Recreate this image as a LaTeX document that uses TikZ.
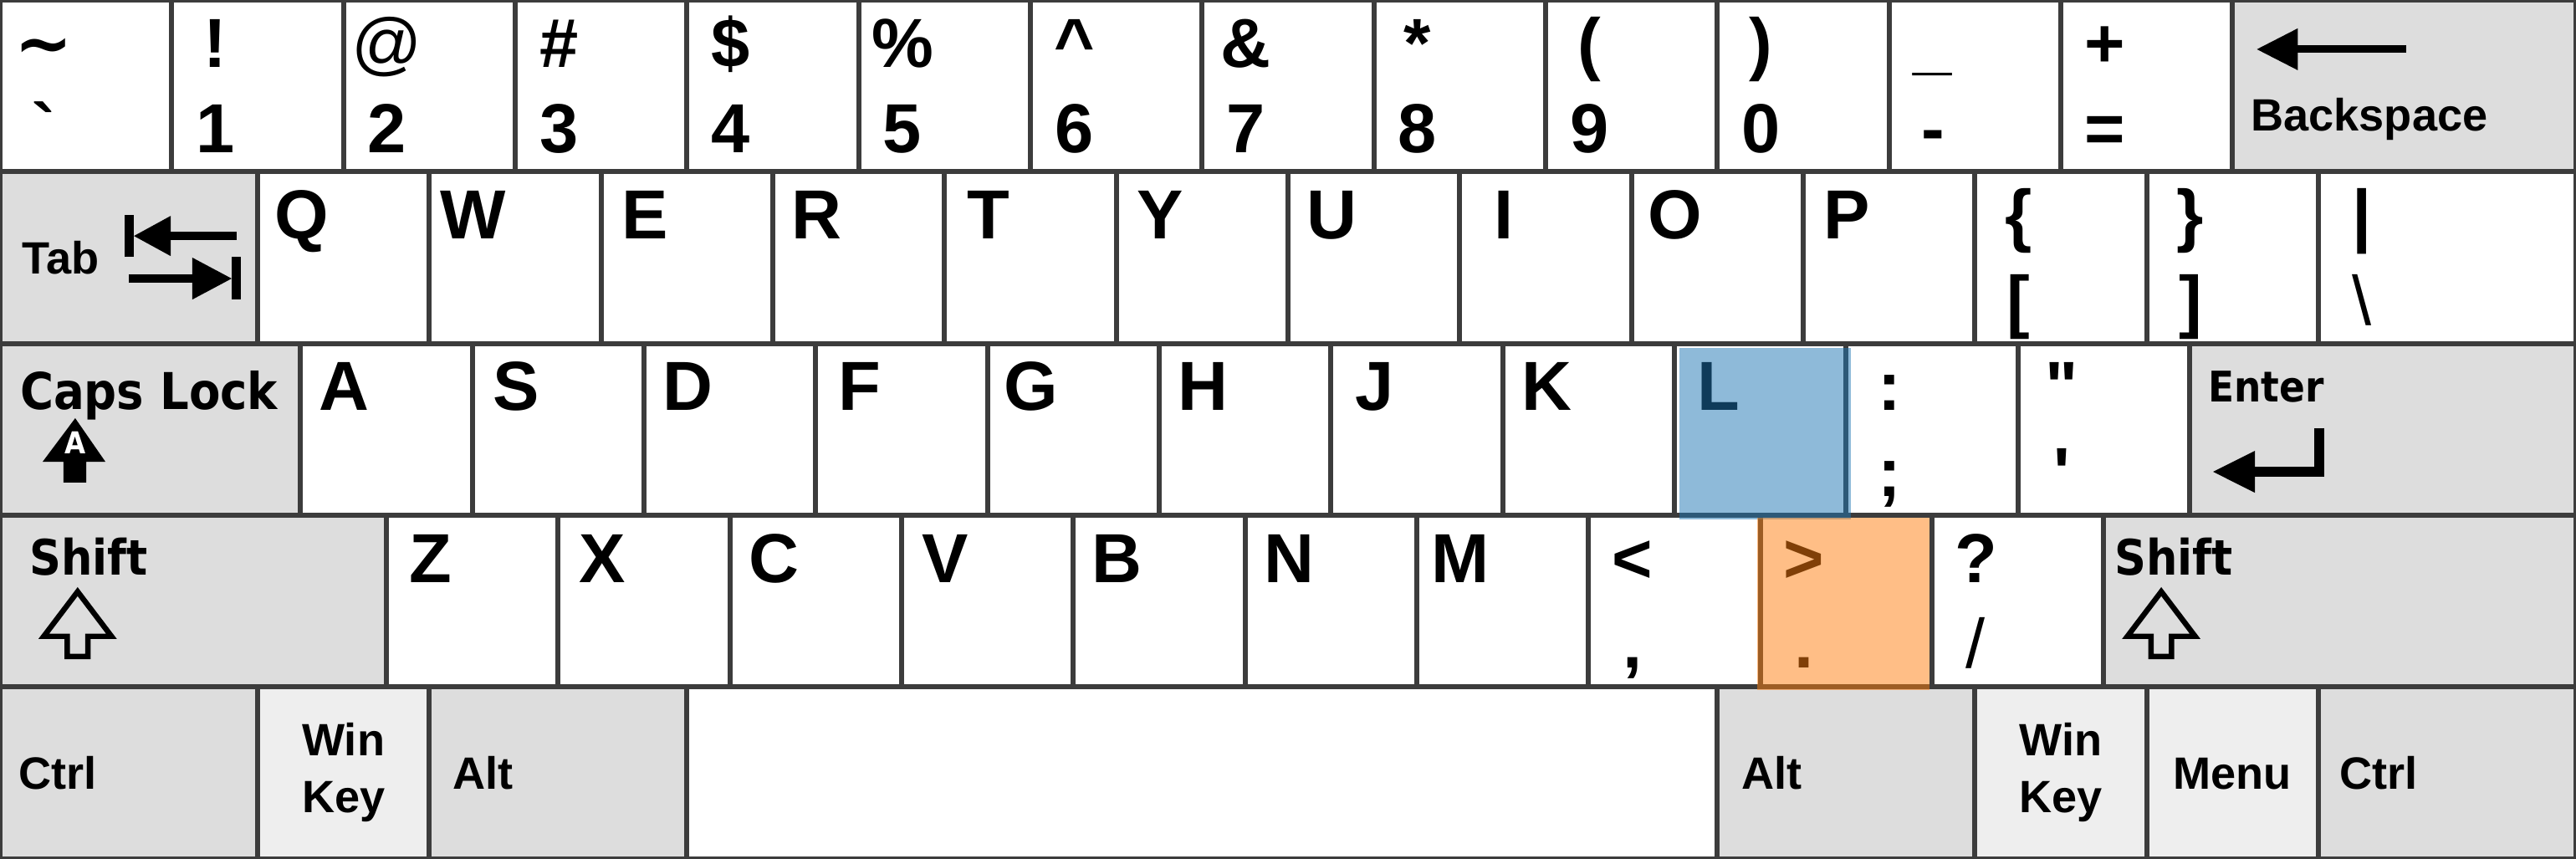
\documentclass[tikz,border=0pt]{standalone}
\usepackage{fontspec}
\newfontfamily\lsans{Liberation Sans}
\newfontfamily\djsans{DejaVu Sans}[FakeStretch=0.9]
\newfontfamily\djplain{DejaVu Sans}
\definecolor{keyline}{HTML}{3C3C3C}
\definecolor{modfill}{HTML}{DDDDDD}
\definecolor{winfill}{HTML}{EEEEEE}
\definecolor{hlblue}{HTML}{1F77B4}
\definecolor{hlorange}{HTML}{FF7F0E}
\tikzset{
  keybox/.style={draw=keyline, line width=0.8pt, fill=white, inner sep=0pt, outer sep=0pt},
  modkey/.style={keybox, fill=modfill},
  winkey/.style={keybox, fill=winfill},
  lbl/.style={anchor=base, inner sep=0pt, font=\lsans\bfseries\fontsize{11.5}{12}\selectfont},
  modlbl/.style={anchor=base west, inner sep=0pt, font=\lsans\bfseries\fontsize{7.5}{9}\selectfont},
  modlblc/.style={anchor=base, inner sep=0pt, font=\lsans\bfseries\fontsize{7.5}{9}\selectfont},
  bklbl/.style={anchor=base west, inner sep=0pt, font=\lsans\bfseries\fontsize{7.5}{9}\selectfont},
  djlbl/.style={anchor=base west, inner sep=0pt, font=\djsans\bfseries\fontsize{8.1}{9}\selectfont},
  capslbl/.style={anchor=base west, inner sep=0pt, font=\djsans\bfseries\fontsize{8.4}{9}\selectfont},
  entlbl/.style={anchor=base west, inner sep=0pt, font=\djsans\bfseries\fontsize{7}{8}\selectfont},
  shiftarrow/.style={draw=black, line width=0.9pt, line join=miter},
  hlbox/.style={inner sep=0pt, outer sep=0pt, minimum width=1cm, minimum height=1cm, fill opacity=0.5},
}
\newcommand{\thin}[1]{{\mdseries #1}}
% key rectangle: name, style, x left, row top, width
\newcommand{\mkkey}[5]{\node[#2, minimum width=#5cm, minimum height=1cm] (#1) at ({#3+#5/2},{#4-0.5}) {};}
% two labels: name, x left, row top, top text, bottom text
\newcommand{\mklab}[5]{\node[lbl] (#1t) at ({#2+0.255},{#3-0.39}) {#4};
  \node[lbl] (#1b) at ({#2+0.255},{#3-0.89}) {#5};}
% one label: name, x left, row top, text
\newcommand{\mkone}[4]{\node[lbl] (#1) at ({#2+0.255},{#3-0.39}) {#4};}
\begin{document}
\begin{tikzpicture}
\useasboundingbox (0,0) rectangle (15,-5);
% ---------- row 1
\foreach \i in {0,...,12} {\mkkey{ra\i}{keybox}{\i}{0}{1}}
\mkkey{bksp}{modkey}{13}{0}{2}
% ---------- row 2
\mkkey{tab}{modkey}{0}{-1}{1.5}
\foreach \i in {0,...,11} {\mkkey{rb\i}{keybox}{1.5+\i}{-1}{1}}
\mkkey{bsl}{keybox}{13.5}{-1}{1.5}
% ---------- row 3
\mkkey{caps}{modkey}{0}{-2}{1.75}
\foreach \i in {0,...,10} {\mkkey{rc\i}{keybox}{1.75+\i}{-2}{1}}
\mkkey{enter}{modkey}{12.75}{-2}{2.25}
% ---------- row 4
\mkkey{lshift}{modkey}{0}{-3}{2.25}
\foreach \i in {0,...,9} {\mkkey{rd\i}{keybox}{2.25+\i}{-3}{1}}
\mkkey{rshift}{modkey}{12.25}{-3}{2.75}
% ---------- row 5
\mkkey{lctrl}{modkey}{0}{-4}{1.5}
\mkkey{lwin}{winkey}{1.5}{-4}{1}
\mkkey{lalt}{modkey}{2.5}{-4}{1.5}
\mkkey{space}{keybox}{4}{-4}{6}
\mkkey{ralt}{modkey}{10}{-4}{1.5}
\mkkey{rwin}{winkey}{11.5}{-4}{1}
\mkkey{menu}{winkey}{12.5}{-4}{1}
\mkkey{rctrl}{modkey}{13.5}{-4}{1.5}

% ---------- labels row 1
\mklab{la0}{0}{0}{{\djplain\bfseries\char126}}{\char96}
\mklab{la1}{1}{0}{!}{1}
\mklab{la2}{2}{0}{\thin{@}}{2}
\mklab{la3}{3}{0}{\#}{3}
\mklab{la4}{4}{0}{\$}{4}
\mklab{la5}{5}{0}{\%}{5}
\mklab{la6}{6}{0}{\char94}{6}
\mklab{la7}{7}{0}{\&}{7}
\mklab{la8}{8}{0}{*}{8}
\mklab{la9}{9}{0}{(}{9}
\mklab{la10}{10}{0}{)}{0}
\mklab{la11}{11}{0}{\char95}{-}
\mklab{la12}{12}{0}{+}{=}
\node[bklbl] (bksptxt) at (13.101,-0.76) {Backspace};
\fill (13.142,-0.287) -- (13.38,-0.165) -- (13.38,-0.409) -- cycle;
\fill (13.37,-0.265) rectangle (14.009,-0.309);
% ---------- labels row 2
\node[modlbl] (tabtxt) at (0.123,-1.593) {Tab};
\fill (0.725,-1.252) rectangle (0.78,-1.495);
\fill (0.78,-1.374) -- (0.994,-1.257) -- (0.994,-1.491) -- cycle;
\fill (0.99,-1.3495) rectangle (1.378,-1.3985);
\fill (0.75,-1.5975) rectangle (1.13,-1.6465);
\fill (1.349,-1.622) -- (1.12,-1.5) -- (1.12,-1.744) -- cycle;
\fill (1.349,-1.495) rectangle (1.403,-1.744);
\mkone{lq}{1.5}{-1}{Q}
\mkone{lw}{2.5}{-1}{W}
\mkone{le}{3.5}{-1}{E}
\mkone{lr}{4.5}{-1}{R}
\mkone{lt}{5.5}{-1}{T}
\mkone{ly}{6.5}{-1}{Y}
\mkone{lu}{7.5}{-1}{U}
\mkone{li}{8.5}{-1}{I}
\mkone{lo}{9.5}{-1}{O}
\mkone{lp}{10.5}{-1}{P}
\mklab{lbr}{11.5}{-1}{\char123}{[}
\mklab{lbrr}{12.5}{-1}{\char125}{]}
\mklab{lbs}{13.5}{-1}{|}{\thin{\char92}}
% ---------- labels row 3
\node[capslbl] (capstxt) at (0.11,-2.385) {Caps Lock};
\fill (0.438,-2.435) -- (0.614,-2.689) -- (0.502,-2.689) -- (0.502,-2.81)
  -- (0.37,-2.81) -- (0.37,-2.689) -- (0.248,-2.689) -- cycle;
\node[anchor=base, inner sep=0pt, text=white, font=\djsans\bfseries\fontsize{5}{6}\selectfont] (capsA) at (0.438,-2.64) {A};
\mkone{lA}{1.75}{-2}{A}
\mkone{lS}{2.75}{-2}{S}
\mkone{lD}{3.75}{-2}{D}
\mkone{lF}{4.75}{-2}{F}
\mkone{lG}{5.75}{-2}{G}
\mkone{lH}{6.75}{-2}{H}
\mkone{lJ}{7.75}{-2}{J}
\mkone{lK}{8.75}{-2}{K}
\mkone{lL}{9.75}{-2}{L}
\mklab{lsc}{10.75}{-2}{:}{;}
\mklab{lqu}{11.75}{-2}{\char34}{\char39}
\node[entlbl] (entertxt) at (12.852,-2.338) {Enter};
\draw[line width=0.055cm, line join=miter] (13.505,-2.492) -- (13.505,-2.747) -- (13.12,-2.747);
\fill (12.887,-2.747) -- (13.13,-2.625) -- (13.13,-2.869) -- cycle;
% ---------- labels row 4
\node[djlbl] (lshifttxt) at (0.165,-3.346) {Shift};
\draw[shiftarrow] (0.452,-3.445) -- (0.649,-3.705) -- (0.512,-3.705) -- (0.512,-3.823)
  -- (0.392,-3.823) -- (0.392,-3.705) -- (0.255,-3.705) -- cycle;
\mkone{lZ}{2.25}{-3}{Z}
\mkone{lX}{3.25}{-3}{X}
\mkone{lC}{4.25}{-3}{C}
\mkone{lV}{5.25}{-3}{V}
\mkone{lB}{6.25}{-3}{B}
\mkone{lN}{7.25}{-3}{N}
\mkone{lM}{8.25}{-3}{M}
\mklab{lcm}{9.25}{-3}{<}{,}
\mklab{lpd}{10.25}{-3}{>}{.}
\mklab{lsl}{11.25}{-3}{?}{\thin{/}}
\node[djlbl] (rshifttxt) at (12.307,-3.346) {Shift};
\draw[shiftarrow] (12.585,-3.445) -- (12.782,-3.705) -- (12.645,-3.705) -- (12.645,-3.823)
  -- (12.525,-3.823) -- (12.525,-3.705) -- (12.388,-3.705) -- cycle;
% ---------- labels row 5
\node[modlbl] (lctrltxt) at (0.103,-4.593) {Ctrl};
\node[modlblc] (lwin1) at (2,-4.398) {Win};
\node[modlblc] (lwin2) at (2,-4.729) {Key};
\node[modlbl] (lalttxt) at (2.63,-4.593) {Alt};
\node[modlbl] (ralttxt) at (10.135,-4.593) {Alt};
\node[modlblc] (rwin1) at (12,-4.398) {Win};
\node[modlblc] (rwin2) at (12,-4.729) {Key};
\node[modlblc] (menutxt) at (13,-4.593) {Menu};
\node[modlbl] (rctrltxt) at (13.618,-4.593) {Ctrl};
% ---------- highlights
\node[hlbox, fill=hlblue] (hlL) at (10.277,-2.525) {};
\node[hlbox, fill=hlorange] (hlP) at (10.733,-3.517) {};
\end{tikzpicture}
\end{document}
